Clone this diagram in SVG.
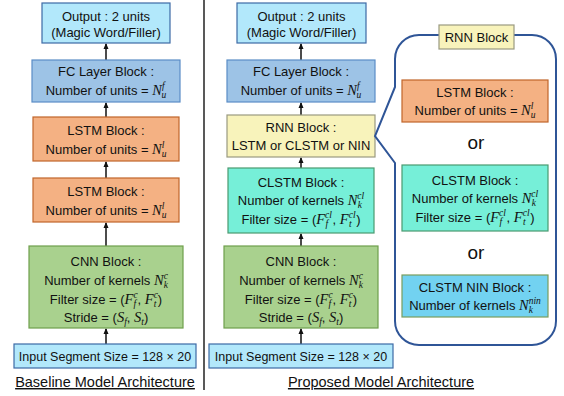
<svg xmlns="http://www.w3.org/2000/svg" width="564" height="396" viewBox="0 0 564 396">
<style>
text{font-family:"Liberation Sans",Arial,sans-serif;font-size:13px;fill:#111;text-anchor:middle}
.m{font-family:"Liberation Serif","Times New Roman",serif;font-style:italic;font-size:14.5px}
.s{font-family:"Liberation Serif","Times New Roman",serif;font-style:italic;font-size:9.5px}
.in{font-size:12.5px}
.or{font-size:19px}
.title{font-size:14.5px;text-decoration:underline}
.out{fill:#b2e8fb;stroke:#3d6aa6;stroke-width:1.2}
.fc{fill:#9dc3e6;stroke:#5a8dc6;stroke-width:1.2}
.lstm{fill:#f4b183;stroke:#c0652a;stroke-width:1.2}
.cnn{fill:#a9d18e;stroke:#6f9f4c;stroke-width:1.2}
.rnn{fill:#f8f3bb;stroke:#9a9a80;stroke-width:1.2}
.cl{fill:#76efd8;stroke:#4a9a70;stroke-width:1.2}
.nin{fill:#72d2f1;stroke:#7a9d5e;stroke-width:1.2}
.a{stroke:#111;stroke-width:1.5;fill:none;marker-end:url(#ah)}
</style>
<defs>
<marker id="ah" markerWidth="6" markerHeight="6" refX="5" refY="3" orient="auto" markerUnits="userSpaceOnUse">
<path d="M0,0.5 L6,3 L0,5.5 z" fill="#111"/>
</marker>
</defs>

<line x1="204" y1="0" x2="204" y2="390" stroke="#222" stroke-width="1.5"/>

<g id="connectors">
<line class="a" x1="106" y1="344" x2="106" y2="329"/>
<line class="a" x1="106" y1="246" x2="106" y2="223"/>
<line class="a" x1="106" y1="178" x2="106" y2="162"/>
<line class="a" x1="106" y1="117" x2="106" y2="103"/>
<line class="a" x1="106" y1="60" x2="106" y2="44"/>
<line class="a" x1="301" y1="344" x2="301" y2="329"/>
<line class="a" x1="301" y1="246" x2="301" y2="234"/>
<line class="a" x1="301" y1="168" x2="301" y2="158"/>
<line class="a" x1="301" y1="115" x2="301" y2="103"/>
<line class="a" x1="301" y1="60" x2="301" y2="44"/>
</g>

<!-- Baseline -->
<g id="b_output"><rect class="out" x="42" y="3" width="128" height="40"/>
<text x="106" y="21">Output : 2 units</text><text x="106" y="37">(Magic Word/Filler)</text></g>
<g id="b_fc"><rect class="fc" x="32" y="60" width="148" height="42"/>
<text x="106" y="76">FC Layer Block :</text>
<text x="106" y="95">Number of units = <tspan class="m">N</tspan><tspan class="s" dy="-6">f</tspan><tspan class="s" dx="-3" dy="9">u</tspan></text></g>
<g id="b_lstm1"><rect class="lstm" x="33" y="117" width="146" height="44"/>
<text x="106" y="135">LSTM Block :</text>
<text x="106" y="154">Number of units = <tspan class="m">N</tspan><tspan class="s" dy="-6">l</tspan><tspan class="s" dx="-2.7" dy="9">u</tspan></text></g>
<g id="b_lstm2"><rect class="lstm" x="33" y="178" width="146" height="44"/>
<text x="106" y="196">LSTM Block :</text>
<text x="106" y="215">Number of units = <tspan class="m">N</tspan><tspan class="s" dy="-6">l</tspan><tspan class="s" dx="-2.7" dy="9">u</tspan></text></g>
<g id="b_cnn"><rect class="cnn" x="29" y="246" width="154" height="82"/>
<text x="106" y="266">CNN Block :</text>
<text x="106" y="285">Number of kernels <tspan class="m">N</tspan><tspan class="s" dy="-6">c</tspan><tspan class="s" dx="-4.2" dy="9">k</tspan></text>
<text x="106" y="304">Filter size = (<tspan class="m">F</tspan><tspan class="s" dy="-6">c</tspan><tspan class="s" dx="-4.2" dy="9">f</tspan><tspan dx="1.5" dy="-3">, </tspan><tspan class="m">F</tspan><tspan class="s" dy="-6">c</tspan><tspan class="s" dx="-4.2" dy="9">t</tspan><tspan dx="1.5" dy="-3">)</tspan></text>
<text x="106" y="322">Stride = (<tspan class="m">S</tspan><tspan class="s" dy="3">f</tspan><tspan dy="-3">, </tspan><tspan class="m">S</tspan><tspan class="s" dy="3">t</tspan><tspan dy="-3">)</tspan></text></g>
<g id="b_input"><rect class="out" x="14" y="344" width="182" height="24"/>
<text class="in" x="105" y="361">Input Segment Size = 128 × 20</text></g>
<text class="title" x="105" y="387">Baseline Model Architecture</text>

<!-- Proposed -->
<g id="p_output"><rect class="out" x="237" y="3" width="129" height="40"/>
<text x="301.5" y="21">Output : 2 units</text><text x="301.5" y="37">(Magic Word/Filler)</text></g>
<g id="p_fc"><rect class="fc" x="227" y="60" width="148" height="42"/>
<text x="301" y="76">FC Layer Block :</text>
<text x="301" y="95">Number of units = <tspan class="m">N</tspan><tspan class="s" dy="-6">f</tspan><tspan class="s" dx="-3" dy="9">u</tspan></text></g>
<g id="p_rnn"><rect class="rnn" x="227" y="115" width="148" height="42"/>
<text x="301" y="132">RNN Block :</text>
<text x="301" y="150">LSTM or CLSTM or NIN</text></g>
<g id="p_clstm"><rect class="cl" x="228" y="168" width="146" height="65"/>
<text x="301" y="187">CLSTM Block :</text>
<text x="301" y="205">Number of kernels <tspan class="m">N</tspan><tspan class="s" dy="-6">cl</tspan><tspan class="s" dx="-6.5" dy="9">k</tspan></text>
<text x="301" y="224">Filter size = (<tspan class="m">F</tspan><tspan class="s" dy="-6">cl</tspan><tspan class="s" dx="-6.5" dy="9">f</tspan><tspan dx="4.5" dy="-3">, </tspan><tspan class="m">F</tspan><tspan class="s" dy="-6">cl</tspan><tspan class="s" dx="-6.5" dy="9">t</tspan><tspan dx="4.5" dy="-3">)</tspan></text></g>
<g id="p_cnn"><rect class="cnn" x="224" y="246" width="154" height="82"/>
<text x="301" y="266">CNN Block :</text>
<text x="301" y="285">Number of kernels <tspan class="m">N</tspan><tspan class="s" dy="-6">c</tspan><tspan class="s" dx="-4.2" dy="9">k</tspan></text>
<text x="301" y="304">Filter size = (<tspan class="m">F</tspan><tspan class="s" dy="-6">c</tspan><tspan class="s" dx="-4.2" dy="9">f</tspan><tspan dx="1.5" dy="-3">, </tspan><tspan class="m">F</tspan><tspan class="s" dy="-6">c</tspan><tspan class="s" dx="-4.2" dy="9">t</tspan><tspan dx="1.5" dy="-3">)</tspan></text>
<text x="301" y="322">Stride = (<tspan class="m">S</tspan><tspan class="s" dy="3">f</tspan><tspan dy="-3">, </tspan><tspan class="m">S</tspan><tspan class="s" dy="3">t</tspan><tspan dy="-3">)</tspan></text></g>
<g id="p_input"><rect class="out" x="209" y="344" width="184" height="24"/>
<text class="in" x="301" y="361">Input Segment Size = 128 × 20</text></g>
<text class="title" x="381" y="387">Proposed Model Architecture</text>

<!-- RNN detail callout -->
<g id="rnn_detail">
<path d="M419 35 H532 A24 24 0 0 1 556 59 V321 A24 24 0 0 1 532 345 H419 A24 24 0 0 1 395 321 V163 L375 136 L395 87 V59 A24 24 0 0 1 419 35 Z" fill="none" stroke="#2f5597" stroke-width="2"/>
<rect class="rnn" x="439" y="25" width="75" height="24"/>
<text x="476.5" y="42">RNN Block</text>
</g>
<g id="d_lstm"><rect class="lstm" x="402" y="80" width="146" height="42"/>
<text x="475" y="97">LSTM Block :</text>
<text x="475" y="115">Number of units = <tspan class="m">N</tspan><tspan class="s" dy="-6">l</tspan><tspan class="s" dx="-2.7" dy="9">u</tspan></text></g>
<text class="or" x="476" y="149">or</text>
<g id="d_clstm"><rect class="cl" x="402" y="165" width="146" height="66"/>
<text x="475" y="185">CLSTM Block :</text>
<text x="475" y="203">Number of kernels <tspan class="m">N</tspan><tspan class="s" dy="-6">cl</tspan><tspan class="s" dx="-6.5" dy="9">k</tspan></text>
<text x="475" y="222">Filter size = (<tspan class="m">F</tspan><tspan class="s" dy="-6">cl</tspan><tspan class="s" dx="-6.5" dy="9">f</tspan><tspan dx="4.5" dy="-3">, </tspan><tspan class="m">F</tspan><tspan class="s" dy="-6">cl</tspan><tspan class="s" dx="-6.5" dy="9">t</tspan><tspan dx="4.5" dy="-3">)</tspan></text></g>
<text class="or" x="476" y="259">or</text>
<g id="d_nin"><rect class="nin" x="402" y="275" width="146" height="42"/>
<text x="475" y="292">CLSTM NIN Block :</text>
<text x="475" y="310">Number of kernels <tspan class="m">N</tspan><tspan class="s" dy="-6">nin</tspan><tspan class="s" dx="-12" dy="9">k</tspan></text></g>
</svg>
